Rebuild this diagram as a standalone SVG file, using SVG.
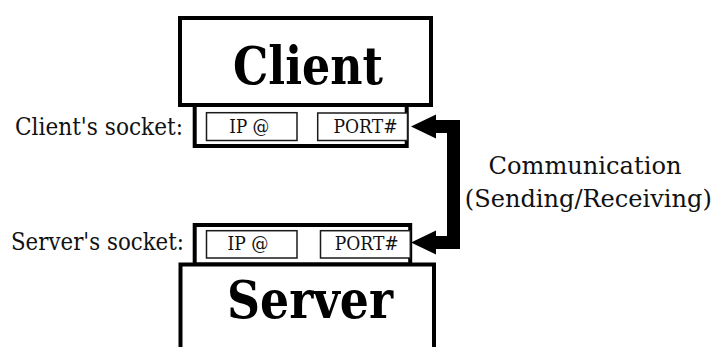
<svg xmlns="http://www.w3.org/2000/svg" width="718" height="347" viewBox="0 0 718 347">
  <style>
    .frame { fill: #fff; stroke: #000; stroke-width: 4; }
    .field { fill: #fff; stroke: #1a1a1a; stroke-width: 1.5; }
    .title { font-family: "DejaVu Serif", "Liberation Serif", serif; font-weight: bold; font-size: 53px; fill: #000; text-anchor: middle; }
    .field-text { font-family: "DejaVu Serif", "Liberation Serif", serif; font-size: 19px; fill: #111; text-anchor: middle; }
    .label { font-family: "DejaVu Serif", "Liberation Serif", serif; font-size: 24px; fill: #111; }
    .wire { fill: none; stroke: #000; stroke-width: 13; stroke-linejoin: miter; }
  </style>
  <defs>
    <marker id="head" viewBox="0 -12 25 24" refX="0" refY="0" markerWidth="25" markerHeight="24" markerUnits="userSpaceOnUse" orient="auto-start-reverse" overflow="visible">
      <path d="M0,-12 L25,0 L0,12 z" fill="#000"/>
    </marker>
  </defs>

  <rect width="718" height="347" fill="#fff"/>

  <!-- Client host -->
  <g id="client">
    <rect class="frame" x="180" y="18" width="251" height="87"/>
    <text class="title" x="308" y="84" textLength="150" lengthAdjust="spacingAndGlyphs">Client</text>
  </g>

  <!-- Client socket: address fields -->
  <g id="client-socket">
    <rect class="frame" x="194.7" y="105" width="212" height="41"/>
    <rect class="field" x="206.5" y="112.7" width="90.5" height="27.8"/>
    <rect class="field" x="317.7" y="113" width="89.8" height="27.5"/>
    <text class="field-text" x="249.3" y="133" textLength="40" lengthAdjust="spacingAndGlyphs">IP @</text>
    <text class="field-text" x="365.5" y="133" textLength="64" lengthAdjust="spacingAndGlyphs">PORT#</text>
    <text class="label" x="15" y="134.5" textLength="168" lengthAdjust="spacingAndGlyphs">Client's socket:</text>
  </g>

  <!-- Server socket: address fields -->
  <g id="server-socket">
    <rect class="frame" x="194.7" y="225" width="215.5" height="39.5"/>
    <rect class="field" x="206.5" y="230.7" width="90.5" height="27.3"/>
    <rect class="field" x="320.5" y="230.7" width="89.8" height="27.3"/>
    <text class="field-text" x="248" y="249.5" textLength="41" lengthAdjust="spacingAndGlyphs">IP @</text>
    <text class="field-text" x="366.7" y="249.5" textLength="64" lengthAdjust="spacingAndGlyphs">PORT#</text>
    <text class="label" x="11" y="250" textLength="173" lengthAdjust="spacingAndGlyphs">Server's socket:</text>
  </g>

  <!-- Server host -->
  <g id="server">
    <rect class="frame" x="180.5" y="264.5" width="253.5" height="100"/>
    <text class="title" x="310" y="318" textLength="166" lengthAdjust="spacingAndGlyphs">Server</text>
  </g>

  <!-- Two-way link between the sockets -->
  <g id="connectors">
    <path class="wire" d="M436,126.5 H453.5 V242.5 H436" marker-start="url(#head)" marker-end="url(#head)"/>
    <text class="label" x="585" y="174.3" text-anchor="middle" textLength="193" lengthAdjust="spacingAndGlyphs">Communication</text>
    <text class="label" x="588.3" y="206.7" text-anchor="middle" textLength="247" lengthAdjust="spacingAndGlyphs">(Sending/Receiving)</text>
  </g>
</svg>
